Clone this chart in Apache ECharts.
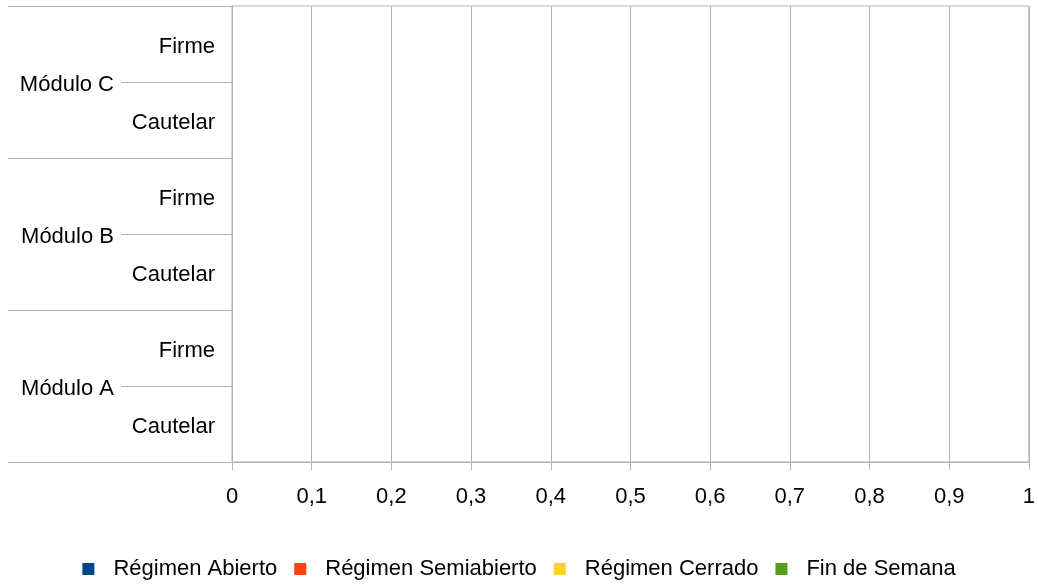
<!DOCTYPE html>
<html><head><meta charset="utf-8">
<script src="https://cdn.jsdelivr.net/npm/echarts@6/dist/echarts.min.js"></script>
<style>html,body{margin:0;padding:0;background:#fff}#c{width:1038px;height:585px}</style>
</head><body><div id="c"></div>
<script>
const subCategories = ['Cautelar','Firme','Cautelar','Firme','Cautelar','Firme'];
const groupCategories = ['Módulo A','Módulo B','Módulo C'];
const seriesNames = ['Régimen Abierto','Régimen Semiabierto','Régimen Cerrado','Fin de Semana'];
const regimenAbierto = [0,0,0,0,0,0];
const regimenSemiabierto = [0,0,0,0,0,0];
const regimenCerrado = [0,0,0,0,0,0];
const finDeSemana = [0,0,0,0,0,0];
const xTicks = [0,0.1,0.2,0.3,0.4,0.5,0.6,0.7,0.8,0.9,1];
const colors = ['#004586','#ff420e','#ffd320','#579d1c'];

const font = 'Liberation Sans, Arial, sans-serif';
const gray = '#b3b3b3';
const fs = 22;
const chart = echarts.init(document.getElementById('c'));
const values = [regimenAbierto, regimenSemiabierto, regimenCerrado, finDeSemana];
const richLbl = {a: {fontFamily: font, fontSize: fs, color: '#000', padding: [6,0,0,0]}};
chart.setOption({
  animation: false,
  color: colors,
  grid: {left: 232, right: 8, top: 6, bottom: 123, show: true, borderColor: gray, borderWidth: 1},
  legend: {
    top: 553, left: 'center', icon: 'rect', itemWidth: 12, itemHeight: 12, itemGap: 17,
    textStyle: {fontFamily: font, fontSize: fs, color: '#000', padding: [0,0,0,14]},
    data: seriesNames
  },
  xAxis: {
    type: 'value', min: xTicks[0], max: xTicks[xTicks.length-1], interval: 0.1,
    axisLine: {show: true, lineStyle: {color: gray}},
    axisTick: {show: true, length: 8, lineStyle: {color: gray}},
    splitLine: {show: true, lineStyle: {color: gray}},
    axisLabel: {margin: 24, fontFamily: font, fontSize: fs, color: '#000',
      formatter: v => String(Math.round(v*10)/10).replace('.', ',')}
  },
  yAxis: [
    {
      type: 'category', data: subCategories, position: 'left',
      axisLine: {show: true, lineStyle: {color: gray}},
      axisTick: {show: true, length: 111, lineStyle: {color: gray}},
      splitLine: {show: false},
      axisLabel: {margin: 17, fontFamily: font, fontSize: fs, color: '#000',
        formatter: v => '{a|' + v + '}', rich: richLbl}
    },
    {
      type: 'category', data: groupCategories, position: 'left',
      axisLine: {show: false},
      axisTick: {show: true, length: 224, lineStyle: {color: gray}},
      splitLine: {show: false},
      axisLabel: {margin: 118, fontFamily: font, fontSize: fs, color: '#000',
        formatter: v => '{a|' + v + '}', rich: richLbl}
    }
  ],
  series: seriesNames.map((n, i) => ({
    name: n, type: 'bar', stack: 'total', yAxisIndex: 0, data: values[i], barWidth: '60%'
  }))
});
</script></body></html>
